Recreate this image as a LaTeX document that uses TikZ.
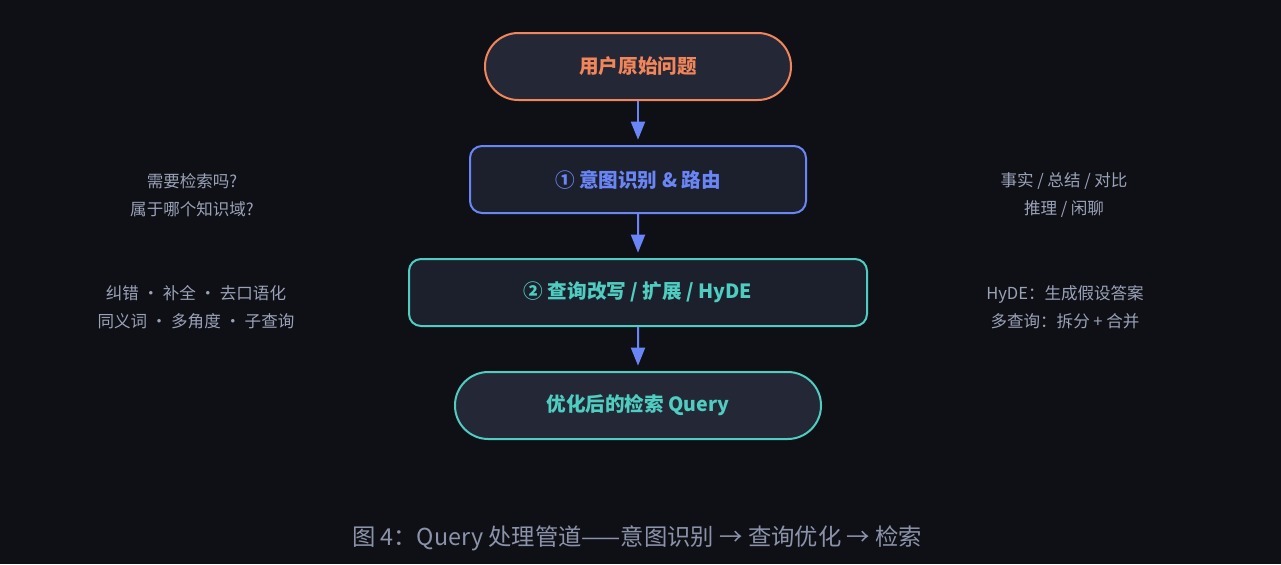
\documentclass[tikz,border=0pt]{standalone}
\usepackage{fontspec}
\setmainfont{Noto Sans CJK SC}
\usetikzlibrary{arrows.meta}

\definecolor{bgdark}{HTML}{0F1016}
\definecolor{pillfill}{HTML}{242735}
\definecolor{boxfill}{HTML}{1C1F2C}
\definecolor{qorange}{HTML}{F2865A}
\definecolor{qblue}{HTML}{6A86F6}
\definecolor{qteal}{HTML}{4ECDC0}
\definecolor{notegray}{HTML}{9AA2B8}
\definecolor{capgray}{HTML}{8B93AA}

\begin{document}
\begin{tikzpicture}[x=0.75pt,y=-0.75pt]
\tikzstyle{stepbox}=[rectangle, draw, line width=1.5pt, rounded corners=9pt, fill=boxfill, minimum height=50.25pt, inner sep=0pt, font=\fontsize{14.7}{17}\selectfont\bfseries]
\tikzstyle{pill}=[stepbox, rounded corners=25pt, fill=pillfill]
\tikzstyle{note}=[align=center, text=notegray, font=\fontsize{12.4}{21}\selectfont]
\tikzstyle{level 1}=[level distance=84.75pt]
\tikzstyle{edge from parent}=[draw=qblue, line width=1.5pt, -{Triangle[length=13.5pt,width=10.5pt]}, shorten >=4pt]

\fill[bgdark] (0,0) rectangle (1281,564);
\useasboundingbox (0,0) rectangle (1281,564);

\node[pill, draw=qorange, text=qorange, minimum width=229.5pt] (question) at (638,66.5) {用户原始问题}
child {node[stepbox, draw=qblue, text=qblue, minimum width=252pt] (intent) {① 意图识别 \& 路由}
  child {node[stepbox, draw=qteal, text=qteal, minimum width=343.5pt] (rewrite) {② 查询改写 / 扩展 / HyDE}
    child {node[pill, draw=qteal, text=qteal, minimum width=274.5pt] (final) {优化后的检索 Query}}}};

% side notes
\node[note] (intentleft) at (192,195) {需要检索吗?\\属于哪个知识域?};
\node[note] (intentright) at (1064,195) {事实 / 总结 / 对比\\推理 / 闲聊};
\node[note] (rewriteleft) at (196,307.5) {纠错 · 补全 · 去口语化\\同义词 · 多角度 · 子查询};
\node[note] (rewriteright) at (1065,307.5) {HyDE：生成假设答案\\多查询：拆分 + 合并};

\node[text=capgray, font=\fontsize{17.5}{20}\selectfont] (caption) at (637,538) {图 4：Query 处理管道——意图识别 → 查询优化 → 检索};
\end{tikzpicture}
\end{document}
